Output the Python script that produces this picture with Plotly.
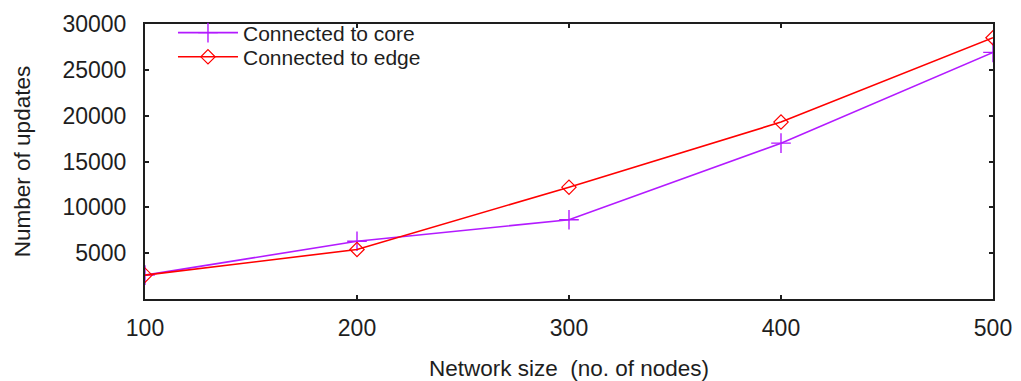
import plotly.graph_objects as go

# Network sizes (number of nodes) and update counts for each attachment point
network_size = [100, 200, 300, 400, 500]
updates_core = [2600, 6300, 8650, 17000, 26900]
updates_edge = [2600, 5400, 12200, 19300, 28500]

y_ticks = [5000, 10000, 15000, 20000, 25000, 30000]

PURPLE = "#b31aff"
RED = "#ff0000"
FONT = "Liberation Sans, Arial, sans-serif"
INK = "#1e1e1e"

fig = go.Figure()
fig.add_trace(go.Scatter(
    x=network_size, y=updates_core, mode="lines+markers",
    name="Connected to core", legend="legend",
    line=dict(color=PURPLE, width=1.6),
    marker=dict(symbol="cross-thin-open", size=14, line=dict(color=PURPLE, width=1.4)),
))
fig.add_trace(go.Scatter(
    x=network_size, y=updates_edge, mode="lines+markers",
    name="Connected to edge", legend="legend2",
    line=dict(color=RED, width=1.6),
    marker=dict(symbol="diamond-open", size=11, color=RED, line=dict(color=RED, width=1.2)),
))

axis_common = dict(
    showline=True, linecolor=INK, linewidth=2, mirror="ticks",
    ticks="inside", ticklen=4, tickcolor=INK, tickwidth=1.5,
    showgrid=False, zeroline=False, tickformat="d", automargin=False,
    tickfont=dict(family=FONT, size=23, color=INK),
)

fig.update_xaxes(
    range=[100, 500], tickvals=network_size,
    title=dict(text="Network size  (no. of nodes)", font=dict(family=FONT, size=22.5, color=INK), standoff=21),
    ticklabelstandoff=7,
    **axis_common,
)
fig.update_yaxes(
    range=[0, 30000], tickvals=y_ticks,
    title=dict(text="Number of updates", font=dict(family=FONT, size=22.5, color=INK), standoff=26),
    ticklabelstandoff=12,
    **axis_common,
)

legend_style = dict(
    xanchor="left", yanchor="top",
    bgcolor="rgba(0,0,0,0)", borderwidth=0,
    font=dict(family=FONT, size=21, color=INK),
    itemwidth=60,
)

fig.update_layout(
    width=1021, height=381,
    margin=dict(l=145, r=28, t=15, b=82),
    paper_bgcolor="white", plot_bgcolor="white",
    showlegend=True,
    legend=dict(x=0.033, y=1.042, **legend_style),
    legend2=dict(x=0.033, y=0.954, **legend_style),
)

fig.write_html("out.html")
